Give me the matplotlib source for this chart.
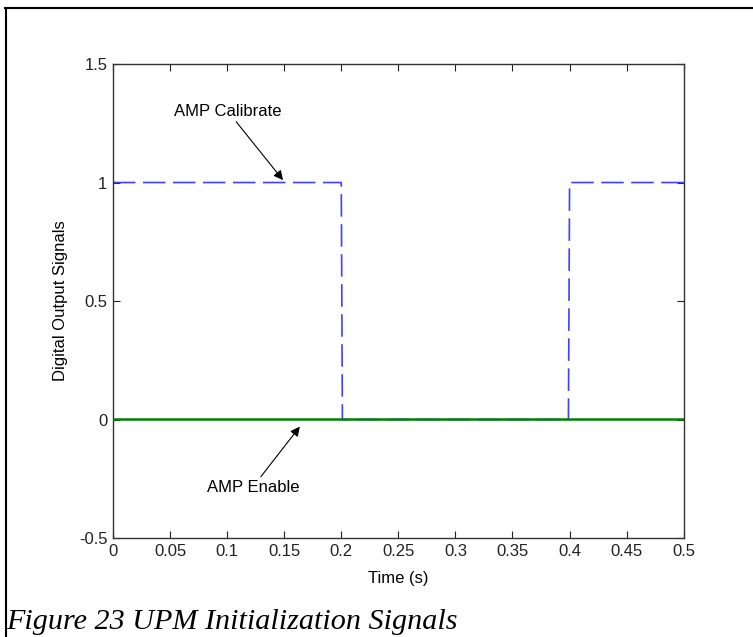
import numpy as np
import matplotlib.pyplot as plt
from matplotlib.lines import Line2D

# AMP Calibrate step signal (blue dashed)
cal_t = [0.0, 0.2, 0.201, 0.399, 0.4, 0.5]
cal_v = [1, 1, 0, 0, 1, 1]
# AMP Enable signal (green solid)
en_t = [0.0, 0.5]
en_v = [0, 0]

xticks = np.arange(0, 0.5001, 0.05)
xticklabels = ['0', '0.05', '0.1', '0.15', '0.2', '0.25', '0.3', '0.35', '0.4', '0.45', '0.5']
yticks = [-0.5, 0, 0.5, 1, 1.5]
yticklabels = ['-0.5', '0', '0.5', '1', '1.5']

plt.rcParams['font.family'] = ['Liberation Sans', 'DejaVu Sans']

fig = plt.figure(figsize=(7.53, 6.37), dpi=100, facecolor='white')
ax = fig.add_axes([0.150, 0.1554, 0.758, 0.7441])

ax.plot(cal_t, cal_v, color=(0.25, 0.25, 1.0), linewidth=1.2, dashes=(13.5, 4.5),
        zorder=2, snap=False)
ax.plot(en_t, en_v, color=(0, 0.5, 0), linewidth=1.8, zorder=3, snap=False)

ax.set_xlim(0, 0.5)
ax.set_ylim(-0.5, 1.5)
ax.set_xticks(xticks)
ax.set_xticklabels(xticklabels)
ax.set_yticks(yticks)
ax.set_yticklabels(yticklabels)
ax.tick_params(direction='in', length=5, width=0.8, top=True, right=True,
               labelsize=12, colors='#222222', pad=4)
for sp in ax.spines.values():
    sp.set_color('#333333')
    sp.set_linewidth(1.0)

ax.set_xlabel('Time (s)', fontsize=12, labelpad=9)
ax.set_ylabel('Digital Output Signals', fontsize=12, labelpad=8)

arrow = dict(arrowstyle='-|>', color='black', lw=0.8, mutation_scale=14,
             shrinkA=0, shrinkB=0)
ax.annotate('AMP Calibrate', xy=(0.149, 1.01), xytext=(0.1007, 1.30),
            ha='center', va='center', fontsize=12, arrowprops=arrow)
ax.annotate('AMP Enable', xy=(0.1637, -0.03), xytext=(0.1225, -0.285),
            ha='center', va='center', fontsize=12, arrowprops=arrow)

# caption and frame of the figure box
fig.text(0.008, 0.0126, 'Figure 23 UPM Initialization Signals', fontsize=21.7,
         family='Liberation Serif', style='italic', ha='left', va='baseline')
fig.add_artist(Line2D([0.007, 1.0], [0.988, 0.988], color='black', lw=1.5,
                      transform=fig.transFigure))
fig.add_artist(Line2D([0.008, 0.008], [0.0, 0.988], color='black', lw=1.5,
                      transform=fig.transFigure))

fig.savefig('out.png', dpi=100, facecolor='white')
